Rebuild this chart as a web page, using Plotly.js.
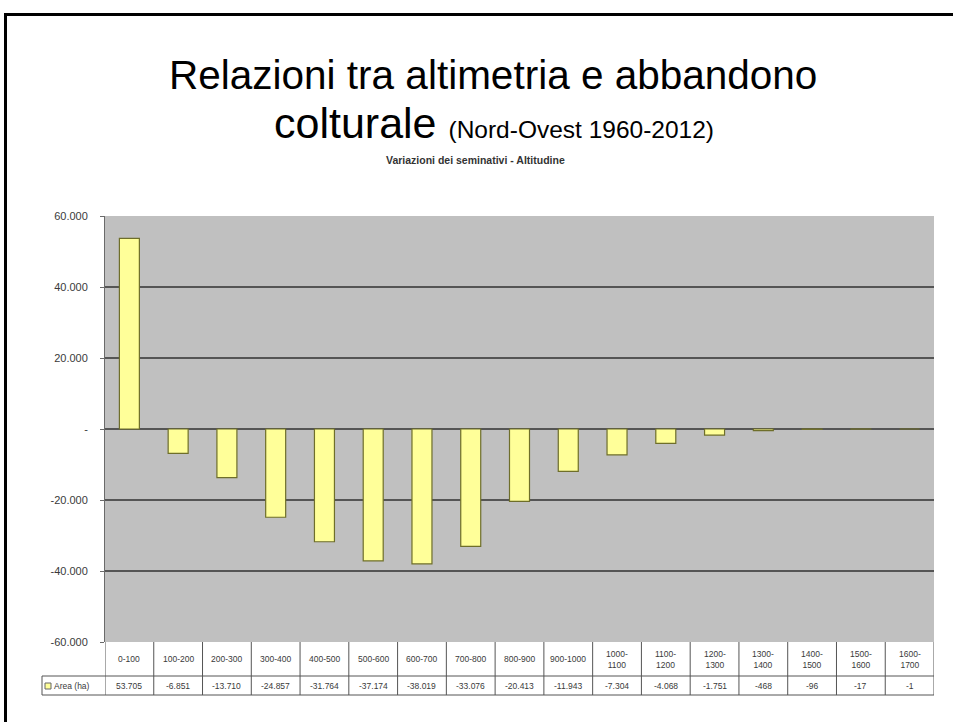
<!DOCTYPE html>
<html>
<head>
<meta charset="utf-8">
<script src="https://cdn.plot.ly/plotly-3.0.1.min.js"></script>
<style>html,body{margin:0;padding:0;background:#fff;}#chart{width:953px;height:722px;}</style>
</head>
<body>
<div id="chart"></div>
<script>
// ---- data ----
var categories = ["0-100","100-200","200-300","300-400","400-500","500-600","600-700","700-800","800-900","900-1000","1000-1100","1100-1200","1200-1300","1300-1400","1400-1500","1500-1600","1600-1700"];
var categoryLabels = ["0-100","100-200","200-300","300-400","400-500","500-600","600-700","700-800","800-900","900-1000","1000-<br>1100","1100-<br>1200","1200-<br>1300","1300-<br>1400","1400-<br>1500","1500-<br>1600","1600-<br>1700"];
var areaValues = [53705, -6851, -13710, -24857, -31764, -37174, -38019, -33076, -20413, -11943, -7304, -4068, -1751, -468, -96, -17, -1];
var valueLabels = ["53.705","-6.851","-13.710","-24.857","-31.764","-37.174","-38.019","-33.076","-20.413","-11.943","-7.304","-4.068","-1.751","-468","-96","-17","-1"];
var yTickVals = [60000, 40000, 20000, 0, -20000, -40000, -60000];
var yTickText = ["60.000","40.000","20.000","-","-20.000","-40.000","-60.000"];
var seriesName = "Area (ha)";

// ---- layout geometry ----
var W = 953, H = 722;
var M = {l:105, r:19, t:216, b:80};
var PW = W - M.l - M.r, PH = H - M.t - M.b;
function px(xp){ return (xp - M.l) / PW; }
function py(yp){ return (H - M.b - yp) / PH; }

var font = "Liberation Sans, Arial, sans-serif";
var textCol = "#3a3a3a";
var lineCol = "#555555";

var shapes = [];
var annotations = [];

// slide frame (top and left)
shapes.push({type:"line", xref:"paper", yref:"paper", x0:px(5), x1:px(953), y0:py(14.5), y1:py(14.5), line:{color:"#000", width:3}});
shapes.push({type:"line", xref:"paper", yref:"paper", x0:px(5.5), x1:px(5.5), y0:py(13), y1:py(722), line:{color:"#000", width:3}});

// data table lines
var rowSep = 676, rowBot = 695;
shapes.push({type:"line", xref:"paper", yref:"paper", x0:px(42), x1:1, y0:py(rowSep), y1:py(rowSep), line:{color:lineCol, width:1}});
shapes.push({type:"line", xref:"paper", yref:"paper", x0:px(42), x1:1, y0:py(rowBot), y1:py(rowBot), line:{color:lineCol, width:1}});
shapes.push({type:"line", xref:"paper", yref:"paper", x0:px(42), x1:px(42), y0:py(rowSep), y1:py(rowBot), line:{color:lineCol, width:1}});
for (var i = 0; i <= categories.length; i++) {
  shapes.push({type:"line", xref:"x", yref:"paper", x0:i-0.5, x1:i-0.5, y0:0, y1:py(rowBot), line:{color:lineCol, width:1}});
}
// legend key square
shapes.push({type:"rect", xref:"paper", yref:"paper", x0:px(45), x1:px(51), y0:py(683), y1:py(689), fillcolor:"#ffff99", line:{color:"#666", width:1}});

for (var j = 0; j < categories.length; j++) {
  annotations.push({xref:"x", yref:"paper", x:categories[j], y:0, yanchor:"middle", yshift:-17, text:categoryLabels[j], showarrow:false, font:{family:font, size:8.5, color:textCol}});
  annotations.push({xref:"x", yref:"paper", x:categories[j], y:0, yanchor:"middle", yshift:-44, text:valueLabels[j], showarrow:false, font:{family:font, size:8.5, color:textCol}});
}
annotations.push({xref:"paper", yref:"paper", x:px(52), y:0, xanchor:"left", yanchor:"middle", yshift:-44, text:seriesName, showarrow:false, font:{family:font, size:8.5, color:textCol}});

// titles
annotations.push({xref:"paper", yref:"paper", x:px(493), y:py(75), xanchor:"center", yanchor:"middle", text:"Relazioni tra altimetria e abbandono", showarrow:false, font:{family:font, size:40.5, color:"#000"}, borderpad:0});
annotations.push({xref:"paper", yref:"paper", x:px(494), y:py(123), xanchor:"center", yanchor:"middle", text:"colturale <span style='font-size:24.5px'>(Nord-Ovest 1960-2012)</span>", showarrow:false, font:{family:font, size:43, color:"#000"}, borderpad:0});
annotations.push({xref:"paper", yref:"paper", x:px(475), y:py(160), xanchor:"center", yanchor:"middle", text:"<b>Variazioni dei seminativi - Altitudine</b>", showarrow:false, font:{family:font, size:10.5, color:"#333"}});

var trace = {
  type:"bar",
  x: categories,
  y: areaValues,
  name: seriesName,
  marker:{color:"#ffff99", line:{color:"#6e6e2a", width:1.2}},
  hoverinfo:"x+y"
};

var layout = {
  width:W, height:H,
  margin:M,
  paper_bgcolor:"#ffffff",
  plot_bgcolor:"#c0c0c0",
  showlegend:false,
  bargap:0.59,
  font:{family:font, color:textCol},
  xaxis:{type:"category", range:[-0.5, categories.length-0.5], showticklabels:false, showgrid:false, zeroline:false, showline:false, ticks:"", fixedrange:true},
  yaxis:{range:[-60000, 60000], tickvals:yTickVals, ticktext:yTickText, showgrid:true, gridcolor:"#555555", gridwidth:1.3, zeroline:true, zerolinecolor:"#555555", zerolinewidth:1.3,
         showline:true, linecolor:"#6a6a6a", linewidth:1, ticks:"outside", ticklen:4, tickcolor:"#6a6a6a", ticklabelstandoff:10,
         tickfont:{family:font, size:11, color:textCol}, fixedrange:true},
  shapes:shapes,
  annotations:annotations
};

Plotly.newPlot("chart", [trace], layout, {displayModeBar:false, staticPlot:true});
</script>
</body>
</html>
